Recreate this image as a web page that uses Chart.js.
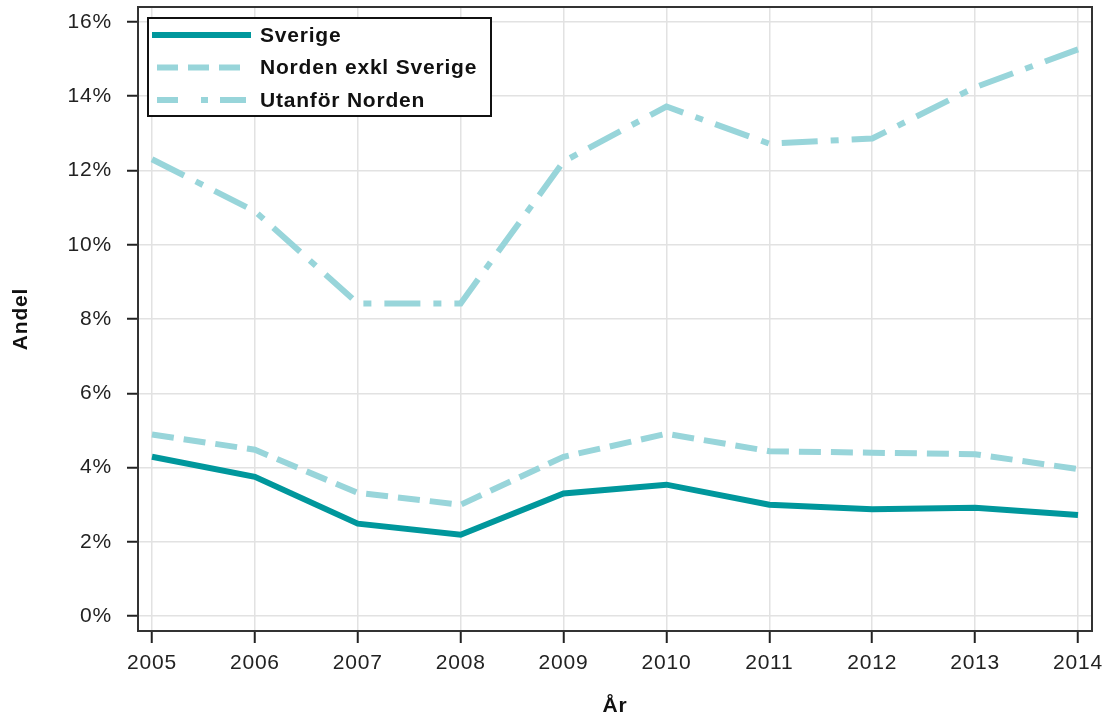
<!DOCTYPE html>
<html>
<head>
<meta charset="utf-8">
<script src="https://cdn.jsdelivr.net/npm/chart.js@4/dist/chart.umd.min.js"></script>
<style>
html,body{margin:0;padding:0;background:#fff;}
#wrap{width:1108px;height:720px;}
</style>
</head>
<body>
<div id="wrap"><canvas id="c" width="1108" height="720"></canvas></div>
<script>
// ---- Data ----
const years = [2005, 2006, 2007, 2008, 2009, 2010, 2011, 2012, 2013, 2014];
const sverige = [4.29, 3.75, 2.49, 2.19, 3.30, 3.54, 3.00, 2.88, 2.92, 2.72];
const nordenExklSverige = [4.89, 4.48, 3.32, 3.00, 4.29, 4.91, 4.44, 4.40, 4.36, 3.96];
const utanforNorden = [12.30, 10.90, 8.42, 8.42, 12.24, 13.72, 12.72, 12.86, 14.24, 15.26];
const seriesNames = ['Sverige', 'Norden exkl Sverige', 'Utanför Norden'];
const yTickValues = [0, 2, 4, 6, 8, 10, 12, 14, 16];
const xTitle = 'År';
const yTitle = 'Andel';

// ---- Styles ----
const FONT = '"Liberation Sans", Arial, sans-serif';
const DARK = '#00979c';
const LIGHT = '#98d5da';
const SPACING = '0.8px';

const toPoints = arr => arr.map((v, i) => ({x: years[i], y: v}));

const spacingPlugin = {
  id: 'spacing',
  beforeUpdate(chart) { chart.ctx.letterSpacing = SPACING; },
  beforeDraw(chart) { chart.ctx.letterSpacing = SPACING; }
};

const frameLegendPlugin = {
  id: 'frameLegend',
  afterDraw(chart) {
    const ctx = chart.ctx;
    const a = chart.chartArea;
    ctx.save();
    ctx.letterSpacing = SPACING;
    // frame
    ctx.strokeStyle = '#333';
    ctx.lineWidth = 2;
    ctx.strokeRect(a.left, a.top, a.right - a.left, a.bottom - a.top);
    // legend box
    const bx = a.left + 10, by = a.top + 11, bw = 343, bh = 98;
    ctx.fillStyle = '#fff';
    ctx.fillRect(bx, by, bw, bh);
    ctx.strokeStyle = '#111';
    ctx.lineWidth = 2;
    ctx.strokeRect(bx, by, bw, bh);
    const legendDash = [[], [21, 10], [21, 23, 7, 12, 40]];
    const startX = [bx + 4, bx + 9, bx + 9];
    const endX = [bx + 103, bx + 97, bx + 98];
    chart.data.datasets.forEach((ds, i) => {
      const y = by + 17 + i * 32.5;
      ctx.beginPath();
      ctx.setLineDash(legendDash[i]);
      ctx.lineCap = 'butt';
      ctx.strokeStyle = ds.borderColor;
      ctx.lineWidth = 6;
      ctx.moveTo(startX[i], y);
      ctx.lineTo(endX[i], y);
      ctx.stroke();
      ctx.setLineDash([]);
      ctx.fillStyle = '#111';
      ctx.font = 'bold 21px ' + FONT;
      ctx.textBaseline = 'middle';
      ctx.textAlign = 'left';
      ctx.fillText(ds.label, bx + 112, y + 1);
    });
    ctx.restore();
  }
};

const ctx = document.getElementById('c').getContext('2d');
new Chart(ctx, {
  type: 'line',
  data: {
    datasets: [
      {label: seriesNames[0], data: toPoints(sverige), borderColor: DARK, borderWidth: 6, borderDash: []},
      {label: seriesNames[1], data: toPoints(nordenExklSverige), borderColor: LIGHT, borderWidth: 6, borderDash: [22, 10]},
      {label: seriesNames[2], data: toPoints(utanforNorden), borderColor: LIGHT, borderWidth: 6, borderDash: [36, 13, 8, 13]}
    ]
  },
  options: {
    responsive: false,
    animation: false,
    devicePixelRatio: 1,
    layout: {padding: {top: 7, right: 16, left: 0, bottom: 0}},
    elements: {
      point: {radius: 0, hoverRadius: 0},
      line: {tension: 0, fill: false, borderCapStyle: 'butt', borderJoinStyle: 'miter'}
    },
    plugins: {legend: {display: false}, tooltip: {enabled: false}},
    scales: {
      x: {
        type: 'linear',
        min: 2004.864,
        max: 2014.136,
        afterBuildTicks: s => { s.ticks = years.map(v => ({value: v})); },
        afterFit: s => { s.height = 89; s.paddingLeft = 0; s.paddingRight = 0; },
        ticks: {
          autoSkip: false, maxRotation: 0,
          callback: v => String(v),
          color: '#222',
          font: {family: FONT, size: 21},
          padding: 8
        },
        grid: {color: '#e2e2e2', lineWidth: 1.5, tickColor: '#222', tickWidth: 2, tickLength: 12, drawTicks: true},
        border: {display: false},
        title: {display: true, text: xTitle, color: '#111', font: {family: FONT, size: 21, weight: 'bold'}, padding: {top: 0, bottom: 1}}
      },
      y: {
        type: 'linear',
        min: -0.4,
        max: 16.4,
        afterBuildTicks: s => { s.ticks = yTickValues.map(v => ({value: v})); },
        afterFit: s => { s.width = 138; s.paddingTop = 0; s.paddingBottom = 0; },
        ticks: {
          callback: v => v + '%',
          color: '#222',
          font: {family: FONT, size: 21},
          padding: 15
        },
        grid: {color: '#e2e2e2', lineWidth: 1.5, tickColor: '#222', tickWidth: 2, tickLength: 11, drawTicks: true},
        border: {display: false},
        title: {display: true, text: yTitle, color: '#111', font: {family: FONT, size: 21, weight: 'bold'}, padding: {top: 9, bottom: 0}}
      }
    }
  },
  plugins: [spacingPlugin, frameLegendPlugin]
});
</script>
</body>
</html>
